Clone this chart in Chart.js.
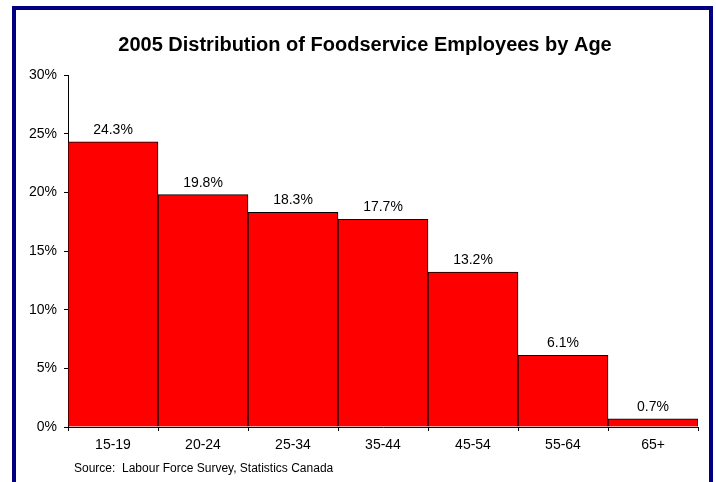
<!DOCTYPE html>
<html>
<head>
<meta charset="utf-8">
<script src="https://cdn.jsdelivr.net/npm/chart.js@4/dist/chart.umd.min.js"></script>
<style>
  html, body { margin: 0; padding: 0; background: #fff; }
  #wrap { width: 716px; height: 482px; position: relative; }
</style>
</head>
<body>
<div id="wrap"><canvas id="c" width="716" height="482"></canvas></div>
<script>
const ageGroups = ['15-19', '20-24', '25-34', '35-44', '45-54', '55-64', '65+'];
const sharePct = [24.3, 19.8, 18.3, 17.7, 13.2, 6.1, 0.7];
const yTicks = [0, 5, 10, 15, 20, 25, 30];

const chartTitle = '2005 Distribution of Foodservice Employees by Age';
const sourceNote = 'Source:  Labour Force Survey, Statistics Canada';

const FONT = '"Liberation Sans", Arial, sans-serif';

// White page with the navy frame, plus title and source line
const framePlugin = {
  id: 'frame',
  beforeDraw(chart) {
    const ctx = chart.ctx;
    ctx.save();
    ctx.fillStyle = '#fff';
    ctx.fillRect(0, 0, chart.width, chart.height);
    ctx.strokeStyle = '#000080';
    ctx.lineWidth = 4;
    ctx.strokeRect(14, 8, 697, 500);
    ctx.restore();
  },
  afterDraw(chart) {
    const ctx = chart.ctx;
    ctx.save();
    ctx.fillStyle = '#000';
    ctx.font = 'bold 20px ' + FONT;
    ctx.textAlign = 'center';
    ctx.textBaseline = 'middle';
    ctx.fillText(chartTitle, 365, 45);
    ctx.font = '12px ' + FONT;
    ctx.textAlign = 'left';
    ctx.fillText(sourceNote, 74, 469);
    ctx.restore();
  }
};

// Value labels above each bar
const valueLabels = {
  id: 'valueLabels',
  afterDatasetsDraw(chart) {
    const ctx = chart.ctx;
    const meta = chart.getDatasetMeta(0);
    ctx.save();
    ctx.fillStyle = '#000';
    ctx.font = '14px ' + FONT;
    ctx.textAlign = 'center';
    ctx.textBaseline = 'bottom';
    meta.data.forEach((bar, i) => {
      ctx.fillText(sharePct[i].toFixed(1) + '%', bar.x, bar.y - 5);
    });
    ctx.restore();
  }
};

new Chart(document.getElementById('c'), {
  type: 'bar',
  data: {
    labels: ageGroups,
    datasets: [{
      data: sharePct,
      backgroundColor: '#ff0000',
      borderColor: '#000',
      borderWidth: 1,
      barPercentage: 1,
      categoryPercentage: 1
    }]
  },
  options: {
    responsive: false,
    animation: false,
    layout: { padding: { left: 0, top: 75, right: 18, bottom: 0 } },
    plugins: {
      legend: { display: false },
      title: { display: false },
      tooltip: { enabled: false }
    },
    scales: {
      x: {
        offset: true,
        grid: {
          offset: true,
          drawOnChartArea: false,
          drawTicks: true,
          tickLength: 4,
          color: '#000'
        },
        border: { color: '#000', width: 1 },
        ticks: { color: '#000', font: { family: FONT, size: 14 }, padding: 6, maxRotation: 0 },
        afterFit(scale) { scale.height = 55; }
      },
      y: {
        min: 0,
        max: 30,
        afterBuildTicks(scale) { scale.ticks = yTicks.map(v => ({ value: v })); },
        grid: {
          drawOnChartArea: false,
          drawTicks: true,
          tickLength: 4,
          color: '#000'
        },
        border: { color: '#000', width: 1 },
        ticks: {
          color: '#000',
          font: { family: FONT, size: 14 },
          padding: 7,
          callback: v => v + '%'
        },
        afterFit(scale) { scale.width = 68; }
      }
    }
  },
  plugins: [framePlugin, valueLabels]
});
</script>
</body>
</html>
